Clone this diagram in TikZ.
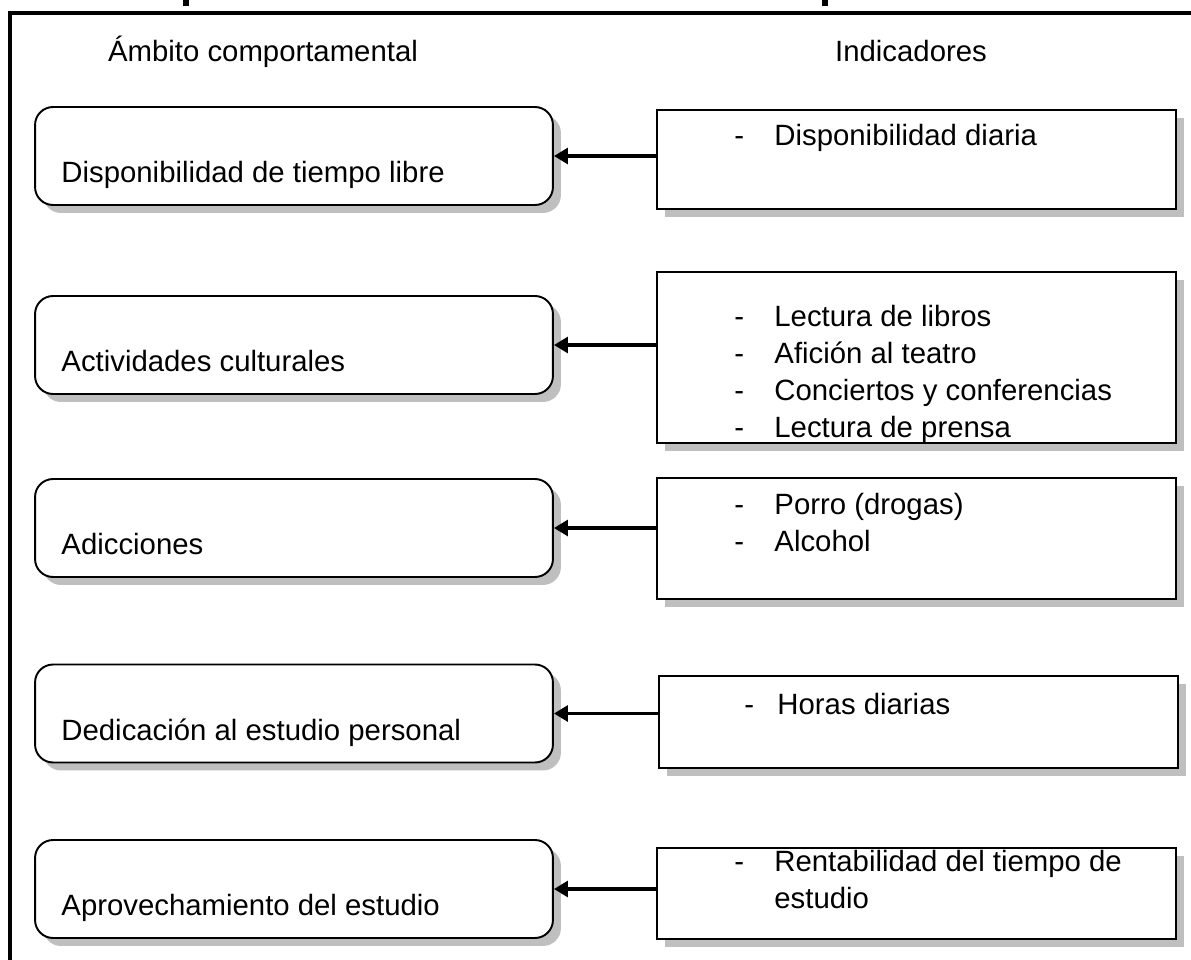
\documentclass[tikz,border=0pt]{standalone}
\usepackage{fontspec}
\setmainfont{Liberation Sans}
\usetikzlibrary{arrows.meta,shadows,calc}

\newcommand{\indline}[2][0.8cm]{\makebox[#1][l]{-}#2}

\begin{document}
\begin{tikzpicture}[x=0.02cm,y=-0.02cm,>={Triangle[length=8pt,width=9pt]},
  every node/.style={font=\fontsize{16.7}{21}\selectfont},
  ambito/.style={draw,line width=1.1pt,rounded corners=0.36cm,fill=white,
    minimum width=10.36cm,minimum height=1.96cm,inner sep=0pt,
    drop shadow={shadow xshift=0.16cm,shadow yshift=-0.16cm,opacity=1,fill=black!25}},
  indic/.style={draw,line width=1.1pt,fill=white,minimum width=10.38cm,inner sep=0pt,
    drop shadow={shadow xshift=0.16cm,shadow yshift=-0.16cm,opacity=1,fill=black!25}},
  lista/.style={anchor=base west,align=left,inner sep=0pt},
  link/.style={->,line width=2pt}]

\useasboundingbox (0,0) rectangle (1191,960);

% frame and the cut title
  \draw[line width=2.3pt] (10,960) -- (10,13) -- (1191,13);
  \fill (183,0) rectangle (189,6);
  \fill (822,0) rectangle (828,6);

% headers
  \node[anchor=base] (h1) at (263,61) {Ámbito comportamental};
  \node[anchor=base] (h2) at (911,61) {Indicadores};

% define the boxes on the left
  \node[ambito] (a1) at (294,156) {};
  \node[ambito] (a2) at (294,345) {};
  \node[ambito] (a3) at (294,528) {};
  \node[ambito] (a4) at (294,713.5) {};
  \node[ambito] (a5) at (294,889) {};

  \node[lista] (t1) at ($(a1.south west)+(27,-23)$) {Disponibilidad de tiempo libre};
  \node[lista] (t2) at ($(a2.south west)+(27,-23)$) {Actividades culturales};
  \node[lista] (t3) at ($(a3.south west)+(27,-23)$) {Adicciones};
  \node[lista] (t4) at ($(a4.south west)+(27,-23)$) {Dedicación al estudio personal};
  \node[lista] (t5) at ($(a5.south west)+(27,-23)$) {Aprovechamiento del estudio};

% define the boxes on the right
  \node[indic,minimum height=1.98cm] (r1) at (916.5,159.5) {};
  \node[indic,minimum height=3.42cm] (r2) at (916.5,357.5) {};
  \node[indic,minimum height=2.42cm] (r3) at (916.5,538.5) {};
  \node[indic,minimum height=1.84cm] (r4) at (918.5,722) {};
  \node[indic,minimum height=1.82cm] (r5) at (916.5,893.5) {};

% (base of a list is its last line)
  \node[lista] (i1) at ($(r1.north west)+(78,36)$) {\indline{Disponibilidad diaria}};
  \node[lista] (i2) at ($(r2.north west)+(78,166)$) {\indline{Lectura de libros}\\
    \indline{Afición al teatro}\\
    \indline{Conciertos y conferencias}\\
    \indline{Lectura de prensa}};
  \node[lista] (i3) at ($(r3.north west)+(78,74)$) {\indline{Porro (drogas)}\\
    \indline{Alcohol}};
  \node[lista] (i4) at ($(r4.north west)+(86,39)$) {\indline[0.66cm]{Horas diarias}};
  \node[lista] (i5) at ($(r5.north west)+(78,61)$) {\indline{Rentabilidad del tiempo de}\\
    \hspace*{0.8cm}estudio};

% define the links
  \path[link] (r1.west |- a1.east) edge (a1.east)
        (r2.west |- a2.east) edge (a2.east)
        (r3.west |- a3.east) edge (a3.east)
        (r4.west |- a4.east) edge (a4.east)
        (r5.west |- a5.east) edge (a5.east);

\end{tikzpicture}
\end{document}
